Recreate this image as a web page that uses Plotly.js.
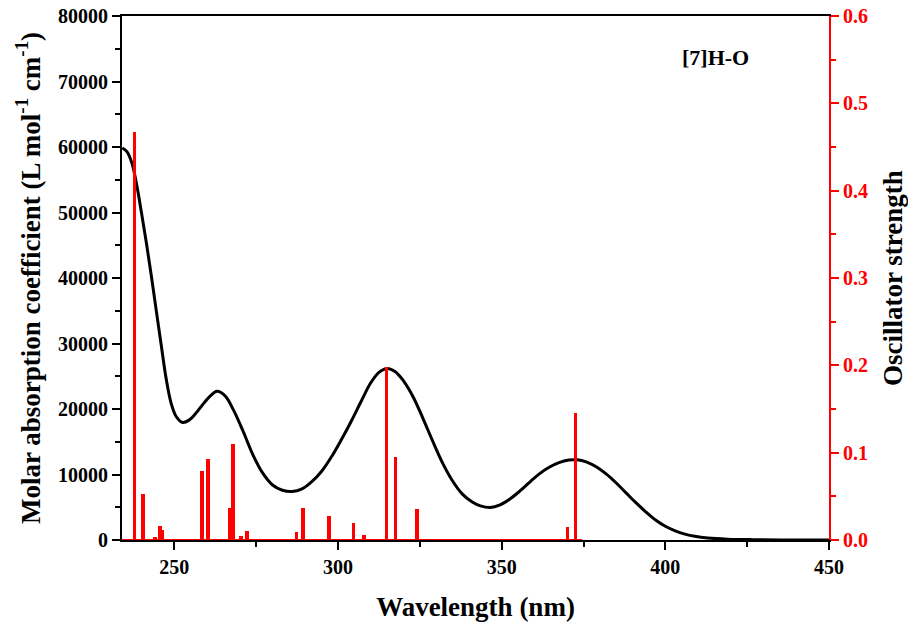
<!DOCTYPE html>
<html>
<head>
<meta charset="utf-8">
<script src="https://cdn.plot.ly/plotly-3.0.1.min.js"></script>
<style>html,body{margin:0;padding:0;background:#fff;}#chart{width:908px;height:635px;}</style>
</head>
<body>
<div id="chart"></div>
<script>
// Absorption spectrum (wavelength nm, molar absorption coefficient)
const specWl = [234.1, 235.5, 237.0, 238.5, 240.0, 241.5, 243.0, 244.5, 246.0, 247.5, 249.0, 250.5, 252.5, 254.5, 256.5, 259.0, 261.0, 263.0, 265.5, 268.0, 271.0, 274.0, 277.0, 280.0, 283.0, 286.0, 289.0, 292.0, 295.0, 298.0, 301.0, 304.0, 307.0, 310.0, 312.5, 315.0, 317.5, 320.0, 323.0, 326.0, 329.0, 332.0, 335.0, 338.0, 341.0, 343.5, 346.5, 349.5, 352.5, 355.5, 358.5, 361.5, 364.5, 367.5, 370.5, 373.0, 376.0, 379.0, 382.0, 385.0, 388.0, 391.0, 394.0, 397.0, 400.0, 403.0, 406.0, 409.0, 413.0, 419.0, 427.0, 438.0, 450.0];
const specEps = [59850, 59300, 57600, 54200, 49800, 45200, 40200, 34900, 29700, 24600, 20900, 18900, 17950, 18300, 19300, 20900, 22000, 22700, 22000, 19900, 16600, 13000, 10200, 8400, 7600, 7400, 7800, 8900, 10500, 12700, 15300, 18100, 21100, 24000, 25600, 26200, 25700, 24300, 21800, 18500, 15000, 11700, 9000, 7000, 5800, 5200, 4950, 5350, 6250, 7450, 8800, 10100, 11100, 11800, 12200, 12250, 11900, 11150, 10050, 8700, 7200, 5700, 4300, 3050, 2100, 1400, 900, 560, 300, 130, 50, 10, 0];

// Calculated transitions (wavelength nm, oscillator strength)
const stickWl = [237.8, 240.5, 244.1, 245.6, 246.3, 258.4, 260.3, 266.8, 267.9, 270.3, 272.1, 287.3, 289.3, 297.3, 304.7, 308.0, 314.8, 317.6, 324.2, 370.1, 372.6];
const stickF  = [0.467, 0.053, 0.004, 0.016, 0.011, 0.079, 0.093, 0.037, 0.110, 0.005, 0.010, 0.009, 0.037, 0.0275, 0.0195, 0.0057, 0.198, 0.0955, 0.036, 0.0145, 0.1455];

const xRange = [234, 450];
const yTicks = [0, 10000, 20000, 30000, 40000, 50000, 60000, 70000, 80000];
const y2Ticks = [0, 0.1, 0.2, 0.3, 0.4, 0.5, 0.6];
const xTicks = [250, 300, 350, 400, 450];

const FONT = "Liberation Serif, Times New Roman, serif";

const traces = [
  {
    x: specWl, y: specEps, type: 'scatter', mode: 'lines',
    line: {color: '#000000', width: 3, shape: 'spline', smoothing: 1.0},
    hoverinfo: 'skip', showlegend: false
  },
  {
    x: [xRange[0], Math.max(...stickWl) + 2], y: [0, 0], yaxis: 'y2', type: 'scatter', mode: 'lines',
    line: {color: '#ff0000', width: 2}, hoverinfo: 'skip', showlegend: false
  },
  {
    x: stickWl, y: stickF, yaxis: 'y2', type: 'bar', width: 1.1,
    marker: {color: '#ff0000', line: {width: 0}}, hoverinfo: 'skip', showlegend: false
  }
];

const layout = {
  width: 908, height: 635,
  margin: {l: 122, r: 79, t: 16, b: 95},
  paper_bgcolor: '#ffffff', plot_bgcolor: '#ffffff',
  font: {family: FONT, color: '#000000'},
  showlegend: false,
  bargap: 0,
  xaxis: {
    range: xRange, tickvals: xTicks, ticktext: xTicks.map(String),
    showgrid: false, zeroline: false,
    showline: true, linecolor: '#000000', linewidth: 2, mirror: true,
    ticks: 'outside', ticklen: 8, tickwidth: 2, tickcolor: '#000000',
    minor: {dtick: 25, tick0: 250, ticks: 'outside', ticklen: 5, tickwidth: 2, tickcolor: '#000000'},
    tickfont: {family: FONT, size: 20, color: '#000000', weight: 'bold'},
    title: {text: '<b>Wavelength (nm)</b>', font: {family: FONT, size: 27, color: '#000000'}, standoff: 20}
  },
  yaxis: {
    range: [0, 80000], tickvals: yTicks, ticktext: yTicks.map(String),
    showgrid: false, zeroline: false,
    showline: true, linecolor: '#000000', linewidth: 2,
    ticks: 'outside', ticklen: 8, tickwidth: 2, tickcolor: '#000000',
    minor: {dtick: 5000, tick0: 0, ticks: 'outside', ticklen: 5, tickwidth: 2, tickcolor: '#000000'},
    tickfont: {family: FONT, size: 20, color: '#000000', weight: 'bold'},
    title: {text: '<b>Molar absorption coefficient (L mol<sup>-1</sup> cm<sup>-1</sup>)</b>', font: {family: FONT, size: 27, color: '#000000'}, standoff: 10}
  },
  yaxis2: {
    range: [0, 0.6], overlaying: 'y', side: 'right',
    tickvals: y2Ticks, ticktext: y2Ticks.map(v => v.toFixed(1)),
    showgrid: false, zeroline: false,
    showline: true, linecolor: '#ff0000', linewidth: 2,
    ticks: 'outside', ticklen: 8, tickwidth: 2, tickcolor: '#ff0000',
    minor: {dtick: 0.05, tick0: 0, ticks: 'outside', ticklen: 5, tickwidth: 2, tickcolor: '#ff0000'},
    tickfont: {family: FONT, size: 20, color: '#ff0000', weight: 'bold'},
    title: {text: '<b>Oscillator strength</b>', font: {family: FONT, size: 27, color: '#000000'}, standoff: 25}
  },
  annotations: [{
    xref: 'paper', yref: 'paper', x: 0.84, y: 0.92, xanchor: 'center', yanchor: 'middle',
    text: '<b>[7]H-O</b>', showarrow: false,
    font: {family: FONT, size: 22, color: '#000000'}
  }]
};

Plotly.newPlot('chart', traces, layout, {staticPlot: true, displayModeBar: false});
</script>
</body>
</html>
